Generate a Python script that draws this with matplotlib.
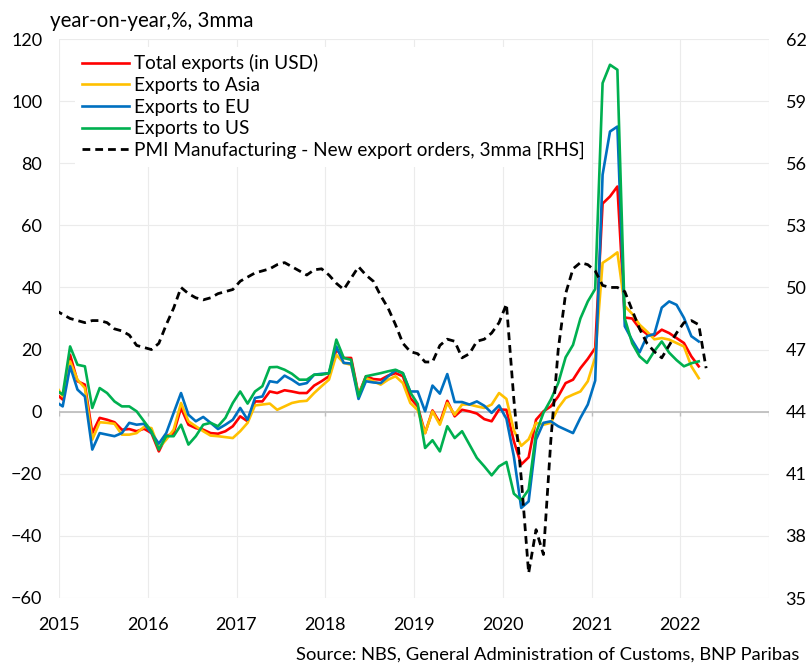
import numpy as np
import matplotlib
matplotlib.use("Agg")
import matplotlib.pyplot as plt

plt.rcParams['font.family'] = ['Lato', 'DejaVu Sans']

# monthly, Dec 2014 .. Mar 2022 (exports), Dec 2014 .. Apr 2022 (PMI)
total = [6.0, 3.9, 18.3, 9.8, 8.7, -6.9, -2.0, -2.6, -3.4, -5.8,
         -5.6, -6.3, -5.5, -6.9, -12.8, -7.9, -6.9, 1.2, -4.2, -5.3,
         -5.8, -6.9, -7.1, -6.3, -4.7, -1.5, -3.1, 3.3, 3.3, 6.5,
         6.0, 6.9, 6.5, 6.0, 6.0, 8.4, 9.8, 11.4, 20.0, 17.3,
         17.3, 5.5, 11.4, 10.5, 10.3, 11.6, 12.4, 11.4, 4.4, 1.7,
         -6.9, 0.4, -3.6, 3.5, -1.5, 0.6, 0.1, -0.6, -2.4, -3.1,
         0.7, 0.6, -9.5, -17.0, -14.7, -2.6, 0.1, 1.7, 4.9, 9.2,
         10.3, 14.0, 17.0, 20.5, 67.0, 69.3, 72.5, 30.3, 30.0, 26.8,
         25.0, 24.5, 26.4, 25.3, 23.7, 22.1, 17.8, 14.6]

asia = [8.7, 4.9, 16.2, 10.3, 7.6, -9.0, -3.4, -3.6, -3.9, -7.4,
        -7.4, -6.9, -4.9, -5.3, -11.7, -9.0, -5.8, 2.8, -3.1, -4.7,
        -6.3, -7.7, -7.9, -8.2, -8.5, -6.3, -3.6, 2.0, 2.3, 2.6,
        0.6, 1.7, 2.8, 3.3, 3.5, 6.0, 8.2, 10.3, 18.3, 15.7,
        15.1, 5.5, 10.8, 9.8, 8.7, 10.3, 11.4, 9.2, 2.8, 0.5,
        -6.9, 0.1, -4.2, 2.8, -1.0, 2.3, 2.3, 1.7, 1.2, 2.3,
        6.0, 4.1, -6.0, -11.0, -8.9, -3.6, -4.2, -3.6, 1.2, 4.4,
        5.5, 6.5, 9.8, 17.5, 47.9, 49.5, 51.3, 34.0, 31.5, 28.0,
        25.8, 23.3, 23.7, 23.2, 22.1, 21.0, 14.6, 10.8]

eu = [3.3, 1.7, 14.6, 7.1, 4.9, -12.2, -6.9, -7.4, -7.9, -6.9,
      -3.6, -4.2, -3.9, -6.9, -10.3, -6.9, -0.4, 6.0, -1.0, -3.1,
      -1.7, -3.6, -5.6, -4.2, -2.6, 1.2, -2.6, 4.4, 4.9, 9.8,
      9.4, 11.6, 10.3, 8.7, 9.2, 11.9, 12.2, 12.4, 21.0, 15.7,
      15.5, 4.1, 9.8, 9.4, 9.2, 11.4, 13.3, 12.4, 6.5, 6.5,
      0.1, 8.4, 5.8, 12.1, 3.1, 3.1, 2.3, 3.3, 1.9, -0.4,
      2.0, -2.3, -14.4, -31.0, -28.9, -9.0, -3.6, -3.1, -4.7, -5.8,
      -6.9, -2.0, 2.3, 10.0, 76.3, 90.2, 91.8, 27.5, 23.0, 19.1,
      24.3, 25.0, 33.5, 35.5, 34.4, 30.2, 24.3, 22.6]

us = [7.1, 5.5, 21.0, 15.1, 14.6, 1.2, 7.6, 6.0, 3.3, 1.7,
      1.7, 0.1, -3.1, -6.3, -12.2, -7.9, -7.9, -4.2, -10.6, -7.9,
      -4.2, -3.6, -4.7, -2.0, 2.8, 6.5, 2.6, 6.5, 8.2, 14.3,
      14.4, 13.5, 12.2, 10.3, 10.3, 11.9, 11.9, 12.4, 23.2, 17.3,
      16.7, 4.9, 11.4, 11.9, 12.4, 13.0, 13.5, 12.4, 6.2, 2.5,
      -11.7, -9.2, -12.8, -4.7, -8.5, -6.3, -10.6, -14.9, -17.6, -20.5,
      -17.6, -16.2, -26.4, -28.5, -25.1, -6.9, -0.4, 3.9, 9.2, 17.5,
      21.5, 30.0, 35.5, 39.5, 105.8, 111.7, 110.1, 30.0, 22.0, 17.8,
      15.7, 19.5, 22.6, 19.0, 16.6, 14.6, 15.6, 16.2]

pmi = [48.9, 48.7, 48.5, 48.4, 48.3, 48.4, 48.4, 48.3, 48.0, 47.9,
       47.7, 47.2, 47.1, 47.0, 47.3, 48.2, 49.0, 50.0, 49.7, 49.5,
       49.4, 49.5, 49.7, 49.8, 49.9, 50.3, 50.5, 50.7, 50.8, 50.9,
       51.1, 51.2, 51.0, 50.8, 50.6, 50.85, 50.9, 50.6, 50.2, 49.9,
       50.45, 51.0, 50.6, 50.3, 49.6, 49.0, 48.2, 47.3, 46.9, 46.8,
       46.4, 46.4, 47.2, 47.5, 47.4, 46.6, 46.8, 47.4, 47.5, 47.8,
       48.3, 49.2, 44.6, 40.8, 36.2, 38.3, 37.1, 42.6, 47.0, 49.7,
       50.9, 51.2, 51.1, 50.8, 50.1, 50.0, 50.0, 49.8, 48.9, 48.0,
       47.3, 46.9, 46.6, 47.2, 47.8, 48.3, 48.4, 48.2, 46.1]

years = list(range(2015, 2024))
year_labels = [str(y) for y in years[:-1]] + ['']
labels = ['Total exports (in USD)', 'Exports to Asia', 'Exports to EU', 'Exports to US',
          'PMI Manufacturing - New export orders, 3mma [RHS]']
colors = ['#ff0000', '#ffc000', '#0070c0', '#00b050']

t = 2015 + (np.arange(len(total)) - 0.5) / 12
t_pmi = 2015 + (np.arange(len(pmi)) - 0.5) / 12

fig = plt.figure(figsize=(8.06, 6.63), dpi=100)
ax = fig.add_axes([59/806, 1-598/663, 710/806, 559/663])
ax2 = ax.twinx()

handles = []
for s, c, lab in zip([total, asia, eu, us], colors, labels[:4]):
    h, = ax.plot(t, s, color=c, lw=1.9, label=lab)
    handles.append(h)
h, = ax2.plot(t_pmi, pmi, color='black', lw=2.0, ls=(0, (2.8, 1.8)), label=labels[4])
handles.append(h)

ax.set_xlim(2015, 2023)
ax.set_ylim(-60, 120)
ax2.set_ylim(35, 62)
ax.set_yticks(range(-60, 121, 20))
ax2.set_yticks(range(35, 63, 3))
ax.set_xticks(years)
ax.set_xticklabels(year_labels)
ax.grid(color='#ebebeb', lw=0.8)
ax.set_axisbelow(True)

for a in (ax, ax2):
    for sp in a.spines.values():
        sp.set_visible(False)

# horizontal axis line at zero with small ticks
ax.axhline(0, color='#bfbfbf', lw=1.3, zorder=1)
ax.vlines(years, -1.4, 0, color='#bfbfbf', lw=1.0, zorder=1)

ax.tick_params(axis='x', length=0, pad=14, labelsize=13)
ax.tick_params(axis='y', length=0, pad=12, labelsize=13)
ax2.tick_params(axis='y', length=0, pad=12, labelsize=13)

leg = ax2.legend(handles=handles, loc='upper left', bbox_to_anchor=(0.022, 0.986),
                 fontsize=13.7, frameon=True, framealpha=1, edgecolor='white',
                 fancybox=False, handlelength=2.45, handletextpad=0.27,
                 labelspacing=0.24, borderpad=0.4, borderaxespad=0)
leg.get_frame().set_linewidth(0)

fig.text(50/806, 1-27/663, 'year-on-year,%, 3mma', fontsize=14.8, ha='left', va='baseline')
fig.text(799/806, 1-660/663, 'Source: NBS, General Administration of Customs, BNP Paribas',
         fontsize=13.2, ha='right', va='baseline')

fig.savefig('out.png', dpi=100)
